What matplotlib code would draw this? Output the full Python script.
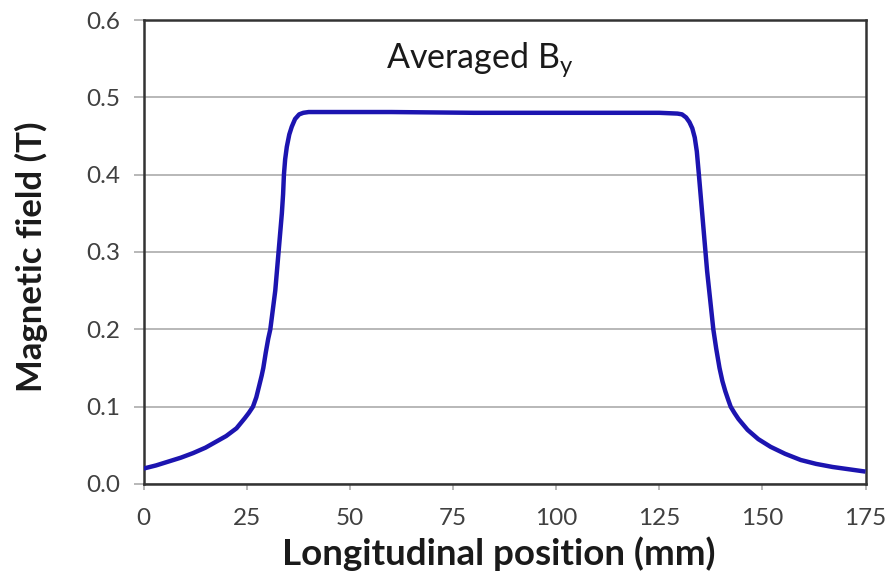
import matplotlib
matplotlib.use("Agg")
import matplotlib.pyplot as plt

# Averaged vertical field component along the magnet axis
position_mm = [0, 3, 6, 9, 12, 15, 18, 20, 22.5, 24.5, 25.5, 26.5, 27.3, 28.0,
               28.6, 29.0, 29.6, 30.2, 30.7, 31.3, 31.9, 32.3, 32.7, 33.1, 33.5,
               33.8, 34.0, 34.3, 34.7, 35.3, 35.9, 36.7, 37.7, 38.7, 40, 45,
               60, 80, 100, 115, 125, 129.4, 130.5, 131.5, 132.3, 133.0, 133.6,
               134.1, 134.6, 135.0, 135.4, 135.8, 136.2, 136.6, 137.1, 137.6,
               138.1, 138.8, 139.6, 140.3, 141.0, 141.7, 142.3, 143.2, 144.2,
               145.3, 146.4, 149, 152, 155.5, 159.3, 163, 167, 171, 175]
field_T = [0.020, 0.024, 0.029, 0.034, 0.040, 0.047, 0.056, 0.062, 0.072, 0.085,
           0.092, 0.100, 0.112, 0.127, 0.140, 0.150, 0.170, 0.188, 0.200, 0.225,
           0.250, 0.275, 0.300, 0.325, 0.350, 0.375, 0.400, 0.420, 0.436, 0.452,
           0.462, 0.472, 0.478, 0.480, 0.481, 0.481, 0.481, 0.480, 0.480, 0.480,
           0.480, 0.479, 0.478, 0.474, 0.468, 0.460, 0.448, 0.430, 0.400, 0.375,
           0.350, 0.325, 0.300, 0.275, 0.250, 0.225, 0.200, 0.175, 0.150, 0.133,
           0.120, 0.109, 0.100, 0.092, 0.084, 0.077, 0.070, 0.058, 0.048, 0.039,
           0.031, 0.026, 0.022, 0.019, 0.016]

x_ticks = [0, 25, 50, 75, 100, 125, 150, 175]
y_ticks = [0.0, 0.1, 0.2, 0.3, 0.4, 0.5, 0.6]

plt.rcParams["font.family"] = ["Lato", "DejaVu Sans"]

fig = plt.figure(figsize=(8.88, 5.87), dpi=100)
ax = fig.add_axes([0.1618, 0.1755, 0.8129, 0.7904])

ax.plot(position_mm, field_T, color="#1c14b0", lw=3.2, solid_joinstyle="round",
        solid_capstyle="butt", zorder=3)

ax.set_xlim(0, 175)
ax.set_ylim(0, 0.6)
ax.set_xticks(x_ticks)
ax.set_yticks(y_ticks)
ax.set_xticklabels([str(t) for t in x_ticks])
ax.set_yticklabels([f"{t:.1f}" for t in y_ticks])

ax.yaxis.grid(True, color="#ababab", lw=1.2, zorder=0)
ax.set_axisbelow(True)

for side in ["left", "right", "top", "bottom"]:
    ax.spines[side].set_color("#333333")
    ax.spines[side].set_linewidth(1.8)

ax.tick_params(axis="y", length=7, width=1.2, color="#ababab", pad=10,
               labelsize=17.5, labelcolor="#404040")
ax.tick_params(axis="x", length=4, width=1.2, color="#ababab", pad=13,
               labelsize=17.5, labelcolor="#404040")

fig.text(0.5613, 1 - 565 / 587, "Longitudinal position (mm)", ha="center",
         va="baseline", fontsize=26.5, fontweight="bold", color="#1a1a1a")
fig.text(31 / 888, 1 - 257 / 587, "Magnetic field (T)", ha="center",
         va="center", rotation=90, fontsize=25, fontweight="bold",
         color="#1a1a1a")

fig.text(480 / 888, 1 - 68 / 587, r"Averaged B$_\mathregular{y}$", ha="center",
         va="baseline", fontsize=24.5, color="#1a1a1a")

fig.savefig("out.png", dpi=100, facecolor="white")
